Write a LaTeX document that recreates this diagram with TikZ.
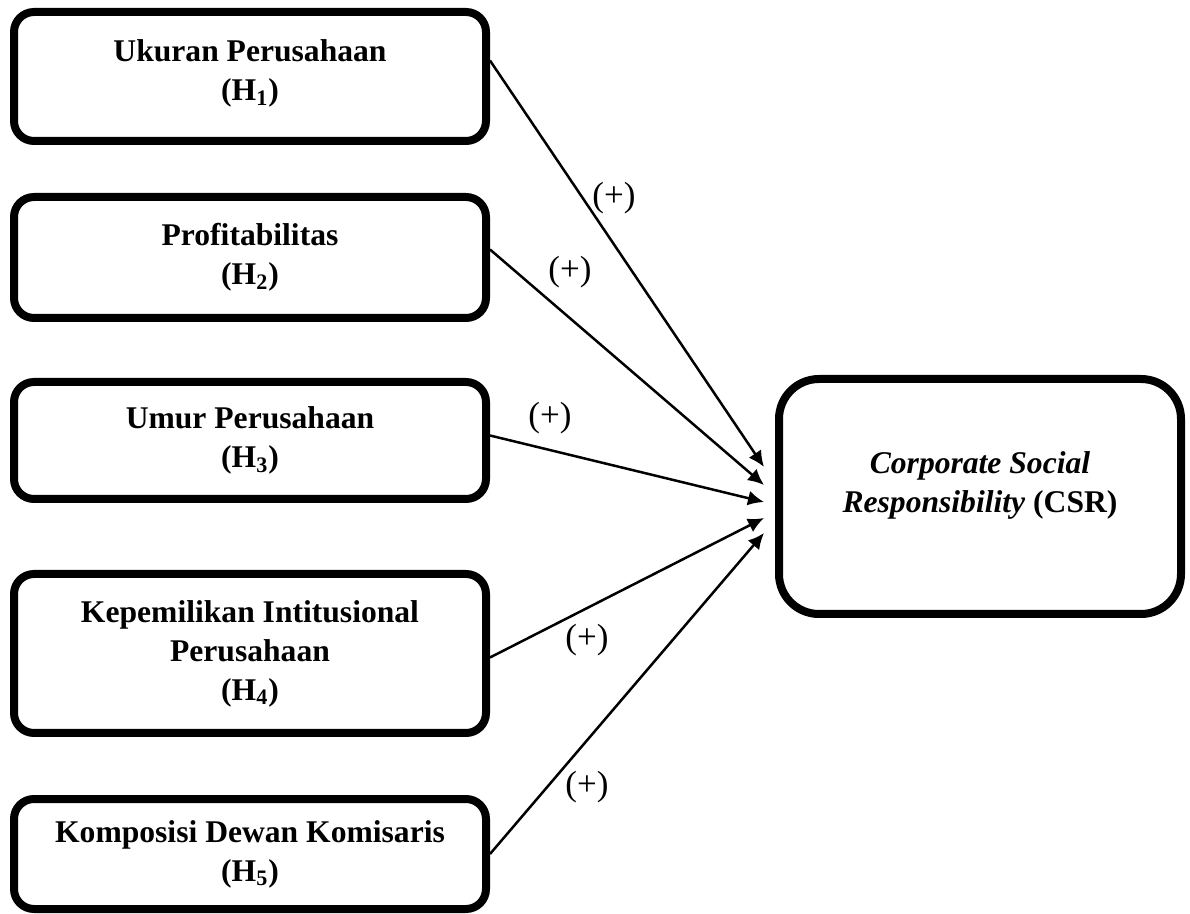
\documentclass[tikz,border=0pt]{standalone}
\usepackage{fontspec}
\setmainfont{Liberation Serif}
\usetikzlibrary{calc,shadows,arrows.meta}
\definecolor{shadowgrey}{HTML}{B4B4B4}
\tikzstyle{var}=[rounded corners=10pt, line width=4pt, draw=black, fill=white, align=center,
  font=\fontsize{15.8}{19.5}\selectfont\bfseries,
  drop shadow={shadow xshift=1.4pt, shadow yshift=-1.4pt, fill=shadowgrey}]
\tikzstyle{link}=[line width=1.25pt, -{Latex[length=8pt,width=7.5pt]}]
\tikzstyle{sign}=[font=\fontsize{17.5}{19}\selectfont]

\begin{document}
\begin{tikzpicture}[x=0.5pt, y=-0.5pt]
\useasboundingbox (0,0) rectangle (1190,914);

\node [var, minimum width=236pt, minimum height=64.5pt, text depth=6pt] (ukuran) at (250, 76.5)
  {Ukuran Perusahaan\\(H\textsubscript{1})};
\node [var, minimum width=236pt, minimum height=60.5pt] (profit) at (250, 257.5)
  {Profitabilitas\\(H\textsubscript{2})};
\node [var, minimum width=236pt, minimum height=58.5pt] (umur) at (250, 440.5)
  {Umur Perusahaan\\(H\textsubscript{3})};
\node [var, minimum width=236pt, minimum height=79.5pt] (milik) at (250, 653.5)
  {Kepemilikan Intitusional\\Perusahaan\\(H\textsubscript{4})};
\node [var, minimum width=236pt, minimum height=55pt] (komisaris) at (250, 854)
  {Komposisi Dewan Komisaris\\(H\textsubscript{5})};
\node [var, rounded corners=20pt, minimum width=201pt, minimum height=117.5pt, text depth=14pt] (csr) at (980, 496.5)
  {\textit{Corporate Social}\\\textit{Responsibility} (CSR)};

\draw [link] ([yshift=8pt]ukuran.east) -- ($(csr.west)+(-11,-29.5)$);
\draw [link] ([yshift=4pt]profit.east) -- ($(csr.west)+(-11,-11.5)$);
\draw [link] ([yshift=2.5pt]umur.east) -- ($(csr.west)+(-11,5.5)$);
\draw [link] ([yshift=-2pt]milik.east) -- ($(csr.west)+(-11,21.5)$);
\draw [link] (komisaris.east) -- ($(csr.west)+(-11,36.5)$);

\node [sign] (s1) at (614, 198) {(+)};
\node [sign] (s2) at (570, 272) {(+)};
\node [sign] (s3) at (550, 418) {(+)};
\node [sign] (s4) at (587, 640) {(+)};
\node [sign] (s5) at (587, 787) {(+)};

\end{tikzpicture}
\end{document}
